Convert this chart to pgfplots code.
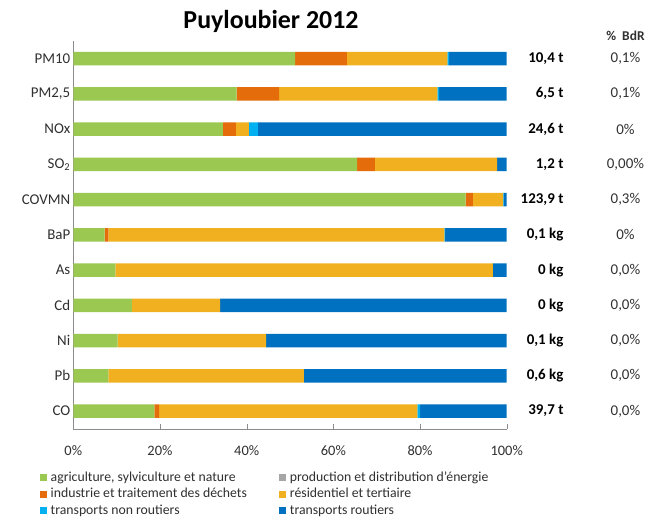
\documentclass[border=0pt]{standalone}
\usepackage{pgfplots}
\pgfplotsset{compat=1.18}
\usepackage{pgfplotstable}
\usepackage{fontspec}
\setmainfont{Carlito}
\definecolor{cagri}{HTML}{9BC850}
\definecolor{cprod}{HTML}{A6A6A6}
\definecolor{cind}{HTML}{E46C0A}
\definecolor{cres}{HTML}{F0B020}
\definecolor{cnonr}{HTML}{00B0F0}
\definecolor{crout}{HTML}{0070C0}
\definecolor{ctext}{HTML}{303030}
\definecolor{caxis}{HTML}{8C8C8C}
\pgfplotstableread{
name agri prod ind res nonr rout
PM10 51.2 0 11.9 23.2 0.4 13.3
PM25 37.7 0 9.8 36.5 0.4 15.6
NOx 34.5 0 3.0 3.0 2.1 57.4
SO2 65.5 0 4.1 28.2 0 2.2
COVMN 90.5 0 1.7 7.0 0.1 0.7
BaP 7.2 0 0.9 77.5 0.2 14.2
As 9.7 0 0 87.1 0 3.2
Cd 13.5 0 0 20.4 0 66.1
Ni 10.2 0 0 34.3 0 55.5
Pb 8.1 0 0 45.1 0 46.8
CO 18.7 0 1.1 59.6 0.6 20.0
}\datatable
\begin{document}
\begin{tikzpicture}
\path[use as bounding box] (0,0) rectangle (665bp,522bp);
\node[font=\fontsize{26}{29}\selectfont\bfseries, text=black] at (271bp,501bp) {Puyloubier 2012};
\begin{axis}[
  at={(73.3bp,93.3bp)}, anchor=south west,
  scale only axis, width=433.4bp, height=387.8bp,
  xbar stacked, bar width=13.5bp,
  xmin=0, xmax=100, ymin=-0.5, ymax=10.5, y dir=reverse,
  axis x line=bottom, axis y line=left,
  axis line style={caxis, -},
  xtick={0,20,40,60,80,100},
  xticklabels={0\%,20\%,40\%,60\%,80\%,100\%},
  xtick align=inside, major tick length=5bp,
  xtick style={caxis},
  ytick={0,...,10},
  yticklabels={PM10,{PM2,5},NOx,SO\textsubscript{2},COVMN,BaP,As,Cd,Ni,Pb,CO},
  ytick style={draw=none},
  yticklabel style={font=\fontsize{15}{17}\selectfont, text=ctext, xshift=3bp},
  xticklabel style={font=\fontsize{14.5}{17}\selectfont, text=ctext, yshift=-13bp},
  clip=false,
  legend columns=2,
  legend cell align=left,
  legend style={draw=none, at={(axis description cs:-0.0768,-0.105)}, anchor=north west,
    inner sep=0pt,
    font=\fontsize{13.8}{15}\selectfont, text=ctext,
    /tikz/every even column/.append style={column sep=31bp},
    nodes={inner sep=1.5bp, text height=10bp, text depth=3.5bp}},
  legend image code/.code={\fill[#1] (0bp,-3.5bp) rectangle (7bp,3.5bp); \path (9bp,0bp);},
]
\addplot[fill=cagri, draw=none] table[x=agri, y expr=\coordindex] {\datatable};
\addplot[fill=cprod, draw=none] table[x=prod, y expr=\coordindex] {\datatable};
\addplot[fill=cind, draw=none] table[x=ind, y expr=\coordindex] {\datatable};
\addplot[fill=cres, draw=none] table[x=res, y expr=\coordindex] {\datatable};
\addplot[fill=cnonr, draw=none] table[x=nonr, y expr=\coordindex] {\datatable};
\addplot[fill=crout, draw=none] table[x=rout, y expr=\coordindex] {\datatable};
\legend{agriculture{,} sylviculture et nature, production et distribution d'énergie,
  industrie et traitement des déchets, résidentiel et tertiaire,
  transports non routiers, transports routiers}
\node[font=\fontsize{13.5}{15}\selectfont\bfseries, text=ctext] at (axis cs:127.4,-0.64) {\%~~BdR};
\tikzset{valn/.style={anchor=east, font=\fontsize{15}{17}\selectfont\bfseries, text=black},
         pctn/.style={font=\fontsize{15}{17}\selectfont, text=ctext}}
\node[valn] at (axis cs:113.9,0) {10,4 t};   \node[pctn] at (axis cs:127.4,0) {0,1\%};
\node[valn] at (axis cs:113.9,1) {6,5 t};    \node[pctn] at (axis cs:127.4,1) {0,1\%};
\node[valn] at (axis cs:113.9,2) {24,6 t};   \node[pctn] at (axis cs:127.4,2) {0\%};
\node[valn] at (axis cs:113.9,3) {1,2 t};    \node[pctn] at (axis cs:127.4,3) {0,00\%};
\node[valn] at (axis cs:113.9,4) {123,9 t};  \node[pctn] at (axis cs:127.4,4) {0,3\%};
\node[valn] at (axis cs:113.9,5) {0,1 kg};   \node[pctn] at (axis cs:127.4,5) {0\%};
\node[valn] at (axis cs:113.9,6) {0 kg};     \node[pctn] at (axis cs:127.4,6) {0,0\%};
\node[valn] at (axis cs:113.9,7) {0 kg};     \node[pctn] at (axis cs:127.4,7) {0,0\%};
\node[valn] at (axis cs:113.9,8) {0,1 kg};   \node[pctn] at (axis cs:127.4,8) {0,0\%};
\node[valn] at (axis cs:113.9,9) {0,6 kg};   \node[pctn] at (axis cs:127.4,9) {0,0\%};
\node[valn] at (axis cs:113.9,10) {39,7 t};  \node[pctn] at (axis cs:127.4,10) {0,0\%};
\end{axis}
\end{tikzpicture}
\end{document}
